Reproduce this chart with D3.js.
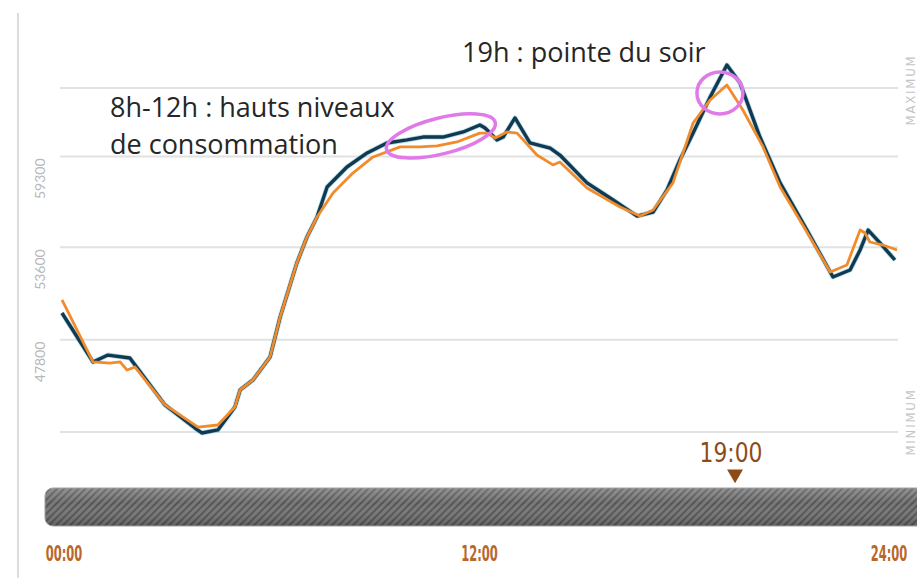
<!DOCTYPE html>
<html>
<head>
<meta charset="utf-8">
<script src="https://cdn.jsdelivr.net/npm/d3@7"></script>
<style>
  body { margin: 0; background: #fff; }
  svg { display: block; }
</style>
</head>
<body>
<div id="vis"></div>
<script>
// hours of each reading, and consumption (MW)
var hoursReal = [0, 0.89, 1.32, 1.95, 2.1, 2.96, 3.82, 4.02, 4.48, 4.97, 5.12, 5.49, 5.98, 6.27, 6.75, 7.04, 7.33, 7.62, 8.19, 8.77, 9.34, 9.92, 10.38, 10.95, 11.53, 12.01, 12.16, 12.5, 12.68, 13.02, 13.45, 14.03, 14.31, 15.09, 15.84, 16.53, 16.99, 17.39, 17.76, 18.14, 18.63, 19.11, 19.49, 20.06, 20.64, 21.41, 22.16, 22.65, 22.94, 23.17, 23.51, 23.94];
var valuesReal = [49470, 46400, 46830, 46650, 46210, 43700, 42250, 41940, 42130, 43570, 44640, 45270, 46710, 49220, 52610, 54240, 55500, 57380, 58640, 59520, 60150, 60340, 60520, 60520, 60840, 61280, 61090, 60340, 60520, 61720, 60150, 59830, 59390, 57640, 56570, 55560, 55810, 57200, 59080, 60770, 63040, 65040, 63910, 60520, 57640, 54680, 51730, 52170, 53430, 54680, 53870, 52800];

var hoursForecast = [0, 0.89, 1.38, 1.67, 1.87, 2.1, 2.96, 3.91, 4.48, 4.97, 5.12, 5.49, 5.98, 6.27, 6.75, 7.04, 7.33, 7.79, 8.36, 8.94, 9.72, 10.29, 10.78, 11.35, 12.01, 12.22, 12.45, 12.79, 13.08, 13.65, 14.11, 14.31, 15.09, 16.04, 16.61, 16.99, 17.56, 18.14, 18.63, 19.11, 19.57, 20.15, 20.64, 21.41, 22.08, 22.56, 22.94, 23.08, 23.22, 23.6, 24];
var valuesForecast = [50290, 46400, 46330, 46400, 45890, 46080, 43700, 42310, 42440, 43570, 44640, 45270, 46710, 49220, 52610, 54240, 55500, 57010, 58260, 59270, 59900, 59900, 59960, 60210, 60770, 60770, 60460, 60840, 60770, 59390, 58770, 58950, 57320, 56130, 55560, 55940, 57640, 61400, 62850, 63790, 62220, 59900, 57380, 54560, 52050, 52490, 54680, 54500, 53930, 53740, 53430];

var gridValues = [42000, 47800, 53600, 59300, 63600];
var tickValues = [47800, 53600, 59300];
var timeTicks = [0, 12, 24];
var timeLabels = ["00:00", "12:00", "24:00"];
var currentHour = 19;
var currentLabel = "19:00";
var limitLabels = ["MAXIMUM", "MINIMUM"];
var limitValues = [63600, 42000];

// annotations: [hour, value] where each text starts
var notes = [
  { lines: ["8h-12h : hauts niveaux", "de consommation"], hour: 1.38, value: 61780 },
  { lines: ["19h : pointe du soir"], hour: 11.5, value: 65230 }
];
var rings = [
  { hour: 10.89, value: 60590, rx: 56, ry: 18, angle: -14 },
  { hour: 18.91, value: 63290, rx: 23, ry: 21, angle: 0 }
];

var W = 917, H = 578;

var x = d3.scaleLinear().domain([0, 24]).range([62, 897]);
var y = d3.scaleLinear().domain([42000, 63600]).range([432, 88]);

var svg = d3.select("#vis").append("svg")
    .attr("width", W)
    .attr("height", H);

var defs = svg.append("defs");
var pat = defs.append("pattern")
    .attr("id", "hatch")
    .attr("patternUnits", "userSpaceOnUse")
    .attr("width", 5)
    .attr("height", 5)
    .attr("patternTransform", "rotate(45)");
pat.append("rect").attr("width", 5).attr("height", 5).attr("fill", "#777");
pat.append("rect").attr("width", 2).attr("height", 5).attr("fill", "#545454");

var grad = defs.append("linearGradient")
    .attr("id", "shade")
    .attr("x1", 0).attr("y1", 0).attr("x2", 0).attr("y2", 1);
grad.append("stop").attr("offset", "0%").attr("stop-color", "#fff").attr("stop-opacity", 0.2);
grad.append("stop").attr("offset", "40%").attr("stop-color", "#fff").attr("stop-opacity", 0);
grad.append("stop").attr("offset", "100%").attr("stop-color", "#000").attr("stop-opacity", 0.2);

// left frame line
svg.append("line")
    .attr("x1", 18).attr("x2", 18)
    .attr("y1", 13).attr("y2", H)
    .attr("stroke", "#dcdcdc")
    .attr("stroke-width", 2);

// gridlines
svg.append("g")
  .selectAll("line")
  .data(gridValues)
  .enter().append("line")
    .attr("x1", 60).attr("x2", 898)
    .attr("y1", function(d) { return y(d); })
    .attr("y2", function(d) { return y(d); })
    .attr("stroke", "#e2e2e2")
    .attr("stroke-width", 2);

// y tick labels (rotated)
svg.append("g")
  .selectAll("text")
  .data(tickValues)
  .enter().append("text")
    .attr("transform", function(d) { return "translate(45," + (y(d) + 2) + ") rotate(-90)"; })
    .attr("text-anchor", "end")
    .attr("font-family", "Lato, sans-serif")
    .attr("font-size", 14)
    .attr("fill", "#b8b8b8")
    .text(function(d) { return d; });

// MAXIMUM / MINIMUM on the right edge
svg.append("g")
  .selectAll("text")
  .data(limitLabels)
  .enter().append("text")
    .attr("transform", function(d, i) { return "translate(915," + (y(limitValues[i]) + (i == 0 ? 2 : -10)) + ") rotate(-90)"; })
    .attr("text-anchor", "middle")
    .attr("font-family", "'DejaVu Sans Condensed', sans-serif")
    .attr("font-size", 13)
    .attr("letter-spacing", 1.8)
    .attr("fill", "#c4c4c4")
    .text(function(d) { return d; });

var line = d3.line()
    .x(function(d) { return x(d[0]); })
    .y(function(d) { return y(d[1]); });

var realData = hoursReal.map(function(h, i) { return [h, valuesReal[i]]; });
var forecastData = hoursForecast.map(function(h, i) { return [h, valuesForecast[i]]; });

svg.append("path")
    .datum(realData)
    .attr("d", line)
    .attr("fill", "none")
    .attr("stroke", "#5fb3c6")
    .attr("stroke-width", 5)
    .attr("stroke-opacity", 0.45)
    .attr("stroke-linejoin", "round");

svg.append("path")
    .datum(realData)
    .attr("d", line)
    .attr("fill", "none")
    .attr("stroke", "#113a52")
    .attr("stroke-width", 3.4)
    .attr("stroke-linejoin", "round");

svg.append("path")
    .datum(forecastData)
    .attr("d", line)
    .attr("fill", "none")
    .attr("stroke", "#f18b2b")
    .attr("stroke-width", 2.8)
    .attr("stroke-linejoin", "round");

// highlight rings
svg.append("g")
  .selectAll("ellipse")
  .data(rings)
  .enter().append("ellipse")
    .attr("transform", function(d) { return "translate(" + x(d.hour) + "," + y(d.value) + ") rotate(" + d.angle + ")"; })
    .attr("rx", function(d) { return d.rx; })
    .attr("ry", function(d) { return d.ry; })
    .attr("fill", "none")
    .attr("stroke", "#e07ae9")
    .attr("stroke-width", 3.5);

// annotation texts
notes.forEach(function(n) {
  var t = svg.append("text")
      .attr("x", x(n.hour))
      .attr("y", y(n.value))
      .attr("font-family", "'Open Sans', sans-serif")
      .attr("font-size", 27)
      .attr("fill", "#262626");
  n.lines.forEach(function(s, i) {
    t.append("tspan")
      .attr("x", x(n.hour))
      .attr("dy", i == 0 ? 0 : 37)
      .text(s);
  });
});

// timeline bar
svg.append("rect")
    .attr("x", 45).attr("y", 488)
    .attr("width", 890).attr("height", 38)
    .attr("rx", 8)
    .attr("fill", "url(#hatch)");
svg.append("rect")
    .attr("x", 45).attr("y", 488)
    .attr("width", 890).attr("height", 38)
    .attr("rx", 8)
    .attr("fill", "url(#shade)")
    .attr("stroke", "#a0a0a0")
    .attr("stroke-width", 1);

// current time marker
svg.append("text")
    .attr("transform", "translate(" + (x(currentHour) + 8) + ",462) scale(0.9,1)")
    .attr("text-anchor", "middle")
    .attr("font-family", "'DejaVu Sans Condensed', sans-serif")
    .attr("font-size", 27)
    .attr("fill", "#8e4b16")
    .text(currentLabel);

svg.append("path")
    .attr("d", d3.symbol().type(d3.symbolTriangle).size(110))
    .attr("transform", "translate(" + (x(currentHour) + 12) + ",474) rotate(180)")
    .attr("fill", "#8e4b16");

// time axis labels
svg.append("g")
  .selectAll("text")
  .data(timeTicks)
  .enter().append("text")
    .attr("transform", function(d) {
      var cx = x(d) + (d == 0 ? 2 : (d == 24 ? -8 : 0));
      return "translate(" + cx + ",561) scale(0.58,1)";
    })
    .attr("text-anchor", "middle")
    .attr("font-family", "'DejaVu Sans Condensed', sans-serif")
    .attr("font-weight", "bold")
    .attr("font-size", 22)
    .attr("fill", "#b8682a")
    .text(function(d, i) { return timeLabels[i]; });
</script>
</body>
</html>
